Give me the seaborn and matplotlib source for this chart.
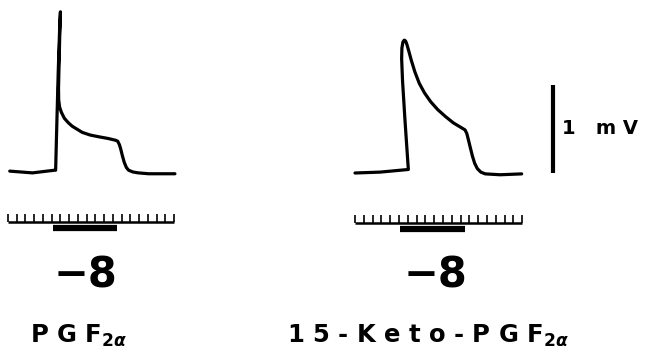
import matplotlib
matplotlib.use("Agg")
import matplotlib.pyplot as plt
import seaborn as sns

# Trace data: time in stimulus-tick units, potential in mV
pgf_t = [0.2, 2.8, 5.3, 5.45, 5.6, 5.75, 5.9, 6.0, 5.93, 5.85, 5.78, 5.8, 5.9,
         6.1, 6.45, 6.9, 7.35, 8.5, 9.4, 10.4, 11.5, 12.33, 12.55, 12.75, 12.9,
         13.1, 13.3, 13.55, 13.8, 14.3, 14.9, 16.1, 19.1]
pgf_v = [0.01, -0.01, 0.02, 0.02, 0.6, 1.15, 1.6, 1.82, 1.6, 1.25, 0.95, 0.82,
         0.74, 0.68, 0.61, 0.56, 0.52, 0.45, 0.42, 0.40, 0.38, 0.36, 0.35, 0.31,
         0.26, 0.18, 0.11, 0.05, 0.02, 0.0, -0.01, -0.02, -0.02]

keto_t = [0, 2.84, 6.06, 5.68, 5.4, 5.3, 5.33, 5.45, 5.6, 5.75, 5.9, 6.1, 6.4,
          6.8, 7.3, 7.9, 8.6, 9.4, 10.3, 11.17, 12.0, 12.5, 12.7, 12.88, 13.1,
          13.35, 13.6, 13.9, 14.3, 14.8, 16.5, 18.94]
keto_v = [0, 0.01, 0.04, 0.60, 1.05, 1.30, 1.42, 1.49, 1.51, 1.50, 1.46, 1.39,
          1.28, 1.15, 1.02, 0.91, 0.81, 0.72, 0.64, 0.57, 0.52, 0.49, 0.45, 0.38,
          0.29, 0.19, 0.11, 0.05, 0.01, -0.01, -0.02, -0.01]

n_ticks = 19           # tick intervals on the time ruler
stim_on, stim_off = 5.1, 12.5
scale_mv = 1
doses = ["\u22128", "\u22128"]
names = [r"P G F$_{\boldsymbol{2\alpha}}$",
         r"1 5 - K e t o - P G F$_{\boldsymbol{2\alpha}}$"]

sns.set_style("white")
plt.rcParams["font.family"] = ["DejaVu Sans"]
plt.rcParams["text.color"] = "black"

W, H = 653, 360
fig = plt.figure(figsize=(W / 100, H / 100), dpi=100)


def panel(x0, y0, xlim, ylim, px_t=8.8, px_mv=88):
    # x0, y0: pixel position of t=0, v=0
    left = x0 + xlim[0] * px_t
    right = x0 + xlim[1] * px_t
    top = y0 - ylim[1] * px_mv
    bottom = y0 - ylim[0] * px_mv
    ax = fig.add_axes([left / W, 1 - bottom / H, (right - left) / W, (bottom - top) / H])
    ax.set_xlim(*xlim)
    ax.set_ylim(*ylim)
    ax.axis("off")
    return ax


ax1 = panel(8, 172, (-0.9, 20.5), (-0.8, 1.95), px_t=8.74)
ax2 = panel(355, 173, (-1.0, 33.5), (-0.8, 1.95))

for ax, t, v in [(ax1, pgf_t, pgf_v), (ax2, keto_t, keto_v)]:
    sns.lineplot(x=t, y=v, ax=ax, sort=False, estimator=None,
                 color="black", lw=2.3, solid_joinstyle="round",
                 solid_capstyle="round")
    # time ruler
    ax.plot([0, n_ticks], [-0.57, -0.57], color="black", lw=1.8,
            solid_capstyle="butt")
    ax.vlines(range(n_ticks + 1), -0.57, -0.475, color="black", lw=1.2)
    # stimulus bar
    ax.plot([stim_on, stim_off], [-0.64, -0.64], color="black", lw=4.5,
            solid_capstyle="butt")

# calibration bar
ax2.plot([22.5, 22.5], [0, scale_mv], color="black", lw=3, solid_capstyle="butt")
ax2.text(23.5, 0.5, f"{scale_mv}   m V", fontsize=14, fontweight="bold",
         color="black", va="center", ha="left")

# labels
for xc, dose in zip([86, 435], doses):
    fig.text(xc / W, 1 - 275 / H, dose, fontsize=30, fontweight="bold",
             color="black", ha="center", va="center")
for xc, name in zip([78, 428], names):
    fig.text(xc / W, 1 - 343 / H, name, fontsize=17.5, fontweight="bold",
             color="black", ha="center", va="baseline")

fig.savefig("out.png", dpi=100, facecolor="white")
